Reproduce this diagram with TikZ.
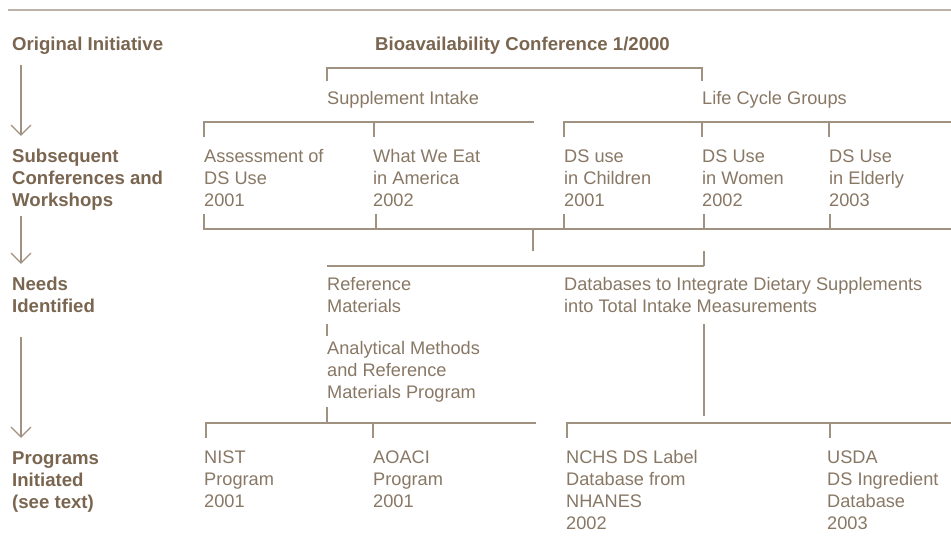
\documentclass[tikz,border=0pt]{standalone}
\usepackage{fontspec}
\setmainfont{Liberation Sans}
\definecolor{ln}{RGB}{160,145,128}
\definecolor{rulec}{RGB}{188,178,168}
\definecolor{bt}{RGB}{122,102,80}
\definecolor{rt}{RGB}{136,120,101}
\newcommand{\mlines}[1]{\begin{tabular}[t]{@{}l@{}}#1\end{tabular}}
\begin{document}
\begin{tikzpicture}[x=1pt,y=-1pt,
  lbl/.style={anchor=base west,inner sep=0pt,text=bt,font=\fontsize{18.6}{22.3}\selectfont\bfseries},
  txt/.style={anchor=base west,inner sep=0pt,text=rt,font=\fontsize{18.2}{22.3}\selectfont},
  con/.style={draw=ln,line width=1.3pt},
  toprule/.style={draw=rulec,line width=1.4pt},
  flow/.style={draw=ln,line width=1.2pt},
  barb/.style={draw=ln,line width=1.1pt}]
\useasboundingbox (0,0) rectangle (951,542);
\fill[white] (0,0) rectangle (951,542);
% top rule
\coordinate (r0) at (8,10);
\coordinate (r1) at (951,10);
\draw[toprule] (r0) -- (r1);
% left column
\node[lbl] (oi) at (12,50) {Original Initiative};
\node[lbl] (sc) at (12,162) {\mlines{Subsequent\\Conferences and\\Workshops}};
\node[lbl] (ni) at (12,290) {\mlines{Needs\\Identified}};
\node[lbl] (pi) at (12,464) {\mlines{Programs\\Initiated\\(see text)}};
\coordinate (a1s) at (21,65);  \coordinate (a1e) at (21,135);
\coordinate (a2s) at (21,216); \coordinate (a2e) at (21,263);
\coordinate (a3s) at (21,337); \coordinate (a3e) at (21,437);
\foreach \s/\e in {a1s/a1e,a2s/a2e,a3s/a3e}{
  \draw[flow] (\s) -- (\e);
  \draw[barb] ([shift={(-10,-10)}]\e) -- (\e) -- ([shift={(10,-10)}]\e);
}
% original initiative
\node[lbl] (bc) at (375,50) {Bioavailability Conference 1/2000};
\node[txt] (si) at (327,104) {Supplement Intake};
\node[txt] (lc) at (702,104) {Life Cycle Groups};
\coordinate (b1) at (327,81);
\coordinate (b2) at (702,81);
\draw[con] (b1) -- ++(0,-13) -| (b2);
% subsequent conferences
\node[txt] (c1) at (204,162) {\mlines{Assessment of\\DS Use\\2001}};
\node[txt] (c2) at (373,162) {\mlines{What We Eat\\in America\\2002}};
\node[txt] (c3) at (564,162) {\mlines{DS use\\in Children\\2001}};
\node[txt] (c4) at (702,162) {\mlines{DS Use\\in Women\\2002}};
\node[txt] (c5) at (829,162) {\mlines{DS Use\\in Elderly\\2003}};
% brackets above
\coordinate (t1) at (204,137); \coordinate (t1e) at (534,122);
\coordinate (t2) at (374,137);
\draw[con] (t1) |- (t1e);
\draw[con] (t2) -- ++(0,-15);
\coordinate (t3) at (564,137); \coordinate (t3e) at (951,122);
\coordinate (t4) at (702,137);
\coordinate (t5) at (829,137);
\draw[con] (t3) |- (t3e);
\draw[con] (t4) -- ++(0,-15);
\draw[con] (t5) -- ++(0,-15);
% bracket below
\coordinate (u1) at (204,214); \coordinate (u1e) at (951,229);
\draw[con] (u1) |- (u1e);
\coordinate (u2) at (376,214);
\coordinate (u3) at (564,214);
\coordinate (u4) at (704,214);
\coordinate (u5) at (830,214);
\foreach \p in {u2,u3,u4,u5} \draw[con] (\p) -- ++(0,15);
\coordinate (stm) at (533,229);
\coordinate (n1) at (327,266);
\coordinate (n2) at (704,266);
\draw[con] (stm) -- (533,251);
\draw[con] (n1) |- (n2);
\draw[con] (n2) -- ++(0,-15);
% needs identified
\node[txt] (rm) at (327,290) {\mlines{Reference\\Materials}};
\node[txt] (am) at (327,354) {\mlines{Analytical Methods\\and Reference\\Materials Program}};
\node[txt] (db) at (564,290) {\mlines{Databases to Integrate Dietary Supplements\\into Total Intake Measurements}};
\coordinate (m1) at (327,324); \coordinate (m2) at (327,336);
\draw[con] (m1) -- (m2);
\coordinate (m3) at (327,407); \coordinate (m4) at (327,423);
\draw[con] (m3) -- (m4);
\coordinate (d1) at (704,324); \coordinate (d2) at (704,416);
\draw[con] (d1) -- (d2);
% programs initiated
\coordinate (p1) at (206,438); \coordinate (p1e) at (536,423);
\draw[con] (p1) |- (p1e);
\coordinate (p2) at (373,438);
\draw[con] (p2) -- ++(0,-15);
\coordinate (p3) at (567,438); \coordinate (p3e) at (951,423);
\draw[con] (p3) |- (p3e);
\coordinate (p4) at (830,438);
\draw[con] (p4) -- ++(0,-15);
\node[txt] (g1) at (204,463) {\mlines{NIST\\Program\\2001}};
\node[txt] (g2) at (373,463) {\mlines{AOACI\\Program\\2001}};
\node[txt] (g3) at (566,463) {\mlines{NCHS DS Label\\Database from\\NHANES\\2002}};
\node[txt] (g4) at (827,463) {\mlines{USDA\\DS Ingredient\\Database\\2003}};
\end{tikzpicture}
\end{document}
